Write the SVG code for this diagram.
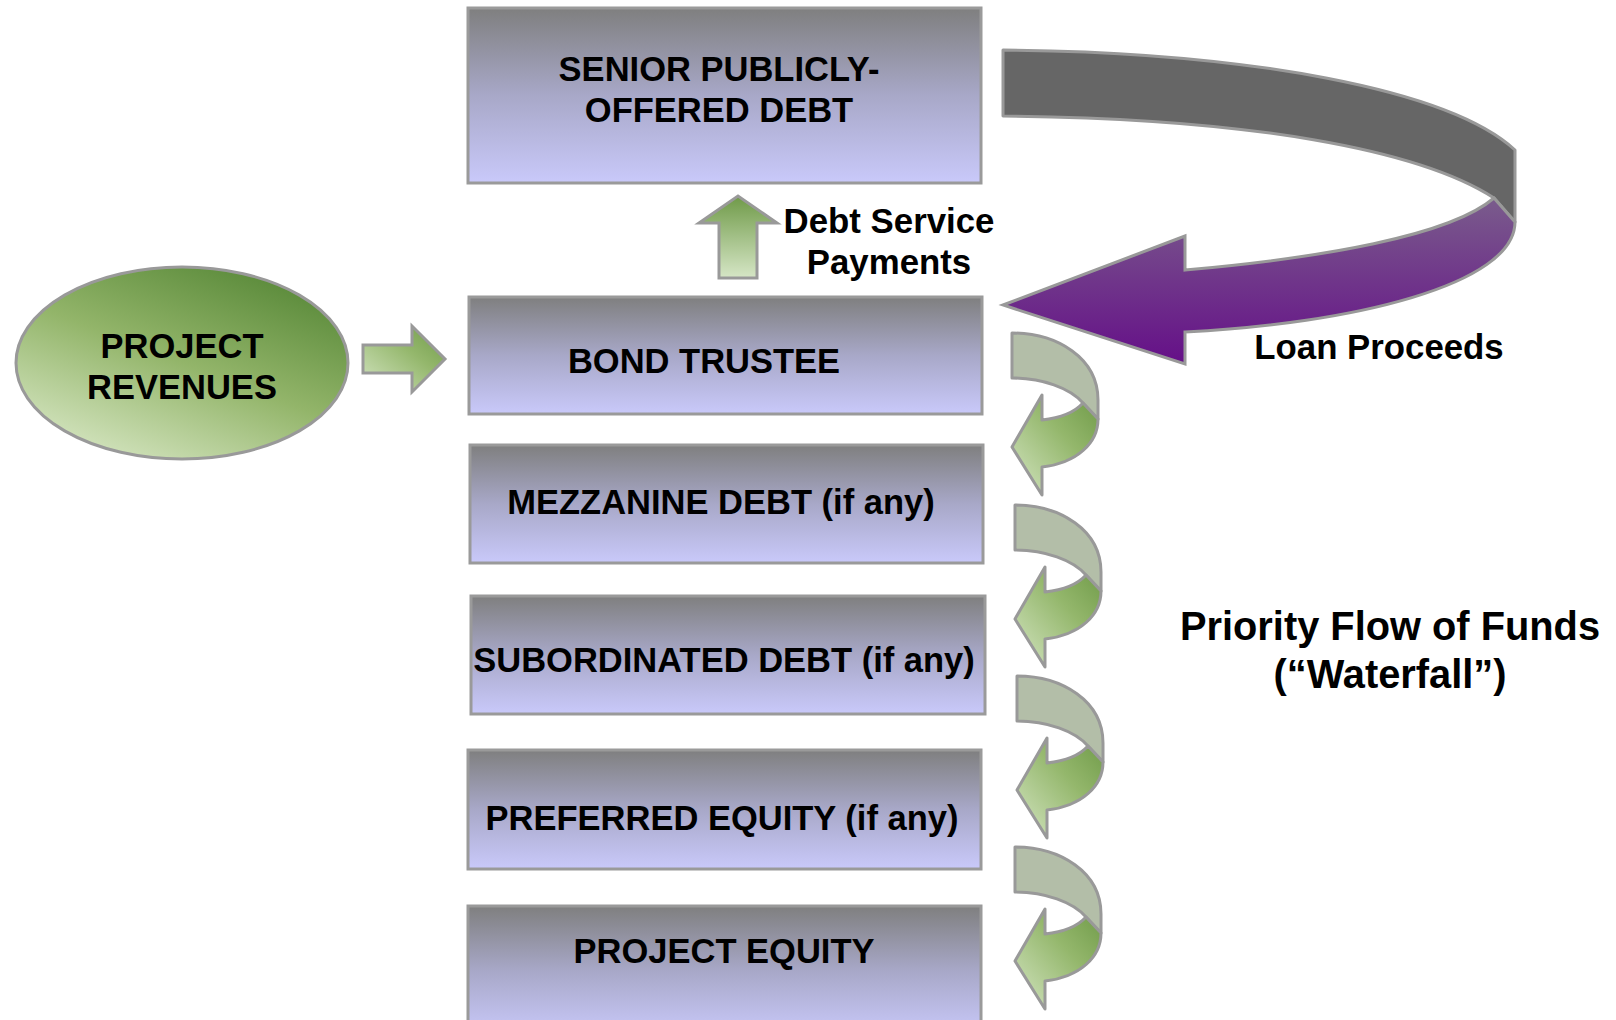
<svg xmlns="http://www.w3.org/2000/svg" width="1616" height="1020" viewBox="0 0 1616 1020">
<defs>
<linearGradient id="boxG" x1="0" y1="0" x2="0" y2="1">
<stop offset="0" stop-color="#7f7f7f"/>
<stop offset="0.5" stop-color="#a8a8c8"/>
<stop offset="1" stop-color="#c9c9fa"/>
</linearGradient>
<linearGradient id="ellG" x1="0.2" y1="0.95" x2="0.8" y2="0.05">
<stop offset="0" stop-color="#d2e3bd"/>
<stop offset="0.5" stop-color="#93b56a"/>
<stop offset="1" stop-color="#5a8a3a"/>
</linearGradient>
<linearGradient id="greenG" x1="0" y1="1" x2="1" y2="0">
<stop offset="0" stop-color="#d4e5c2"/>
<stop offset="0.6" stop-color="#94b76c"/>
<stop offset="1" stop-color="#6f9a48"/>
</linearGradient>
<linearGradient id="upG" x1="0" y1="1" x2="0" y2="0">
<stop offset="0" stop-color="#d6e6c6"/>
<stop offset="1" stop-color="#6f9a48"/>
</linearGradient>
<linearGradient id="purG" x1="0" y1="0" x2="0" y2="1">
<stop offset="0" stop-color="#7a5c8c"/>
<stop offset="1" stop-color="#650f88"/>
</linearGradient>
<g id="wf">
<path class="wfgray" d="M0,0 C45,0 86,25 86,67 L86,86 L71,70 C58,55 30,45 0,45 Z"/>
<path class="wfgreen" d="M71,70 L86,86 C86,110 65,130 30,134 L30,162 L0,114 L30,62 L30,87 C48,85 63,79 71,70 Z"/>
</g>
</defs>
<style>
.box{fill:url(#boxG);stroke:#9a9a9a;stroke-width:3}
.t{font-family:"Liberation Sans",Arial,sans-serif;font-weight:bold;fill:#000;text-anchor:middle}
.bt{font-size:34.5px}
.lbl{font-size:34.8px}
.wfgray{fill:#b3bea8;stroke:#999;stroke-width:3;stroke-linejoin:round}
.wfgreen{fill:url(#greenG);stroke:#999;stroke-width:3;stroke-linejoin:round}
.arr{stroke:#999;stroke-width:3;stroke-linejoin:miter}
</style>
<rect width="1616" height="1020" fill="#fff"/>

<g id="connectors">
<g id="loan-proceeds-arrow">
<path d="M1003,50 C1250,52 1450,90 1515,150 L1515,222 L1494,198 C1420,150 1250,118 1003,116 Z" fill="#666666" stroke="#999" stroke-width="3" stroke-linejoin="round"/>
<path d="M1494,198 L1515,222 C1515,285 1350,324 1185,332 L1185,364 L1003,305 L1185,236 L1185,270 C1320,258 1450,236 1494,198 Z" fill="url(#purG)" stroke="#999" stroke-width="3" stroke-linejoin="miter"/>
</g>
<path id="revenue-arrow" class="arr" d="M363,345 L412,345 L412,326 L445,359 L412,392 L412,373 L363,373 Z" fill="url(#greenG)"/>
<path id="debt-service-arrow" class="arr" d="M719,278 L719,223 L699,223 L738,196 L777,223 L757,223 L757,278 Z" fill="url(#upG)"/>
<use href="#wf" x="1012" y="333"/>
<use href="#wf" x="1015" y="505"/>
<use href="#wf" x="1017" y="676"/>
<use href="#wf" x="1015" y="847"/>
</g>

<g id="senior-debt">
<rect class="box" x="468" y="8" width="513" height="175"/>
<text class="t bt" x="719" y="81">SENIOR PUBLICLY-</text>
<text class="t bt" x="719" y="122">OFFERED DEBT</text>
</g>
<g id="bond-trustee">
<rect class="box" x="469" y="297" width="513" height="117"/>
<text class="t bt" x="704" y="373">BOND TRUSTEE</text>
</g>
<g id="mezzanine-debt">
<rect class="box" x="470" y="445" width="513" height="118"/>
<text class="t bt" x="721" y="514">MEZZANINE DEBT (if any)</text>
</g>
<g id="subordinated-debt">
<rect class="box" x="471" y="596" width="514" height="118"/>
<text class="t bt" x="724" y="672">SUBORDINATED DEBT (if any)</text>
</g>
<g id="preferred-equity">
<rect class="box" x="468" y="750" width="513" height="119"/>
<text class="t bt" x="722" y="830">PREFERRED EQUITY (if any)</text>
</g>
<g id="project-equity">
<rect class="box" x="468" y="906" width="513" height="130"/>
<text class="t bt" x="724" y="963">PROJECT EQUITY</text>
</g>
<g id="project-revenues">
<ellipse cx="182" cy="363" rx="166" ry="96" fill="url(#ellG)" stroke="#999" stroke-width="3"/>
<text class="t bt" x="182" y="358">PROJECT</text>
<text class="t bt" x="182" y="399">REVENUES</text>
</g>
<g id="labels">
<text class="t lbl" x="889" y="233">Debt Service</text>
<text class="t lbl" x="889" y="274">Payments</text>
<text class="t lbl" x="1379" y="359">Loan Proceeds</text>
<text class="t" style="font-size:39.8px" x="1390" y="640">Priority Flow of Funds</text>
<text class="t" style="font-size:39.8px" x="1390" y="688">(“Waterfall”)</text>
</g>
</svg>
